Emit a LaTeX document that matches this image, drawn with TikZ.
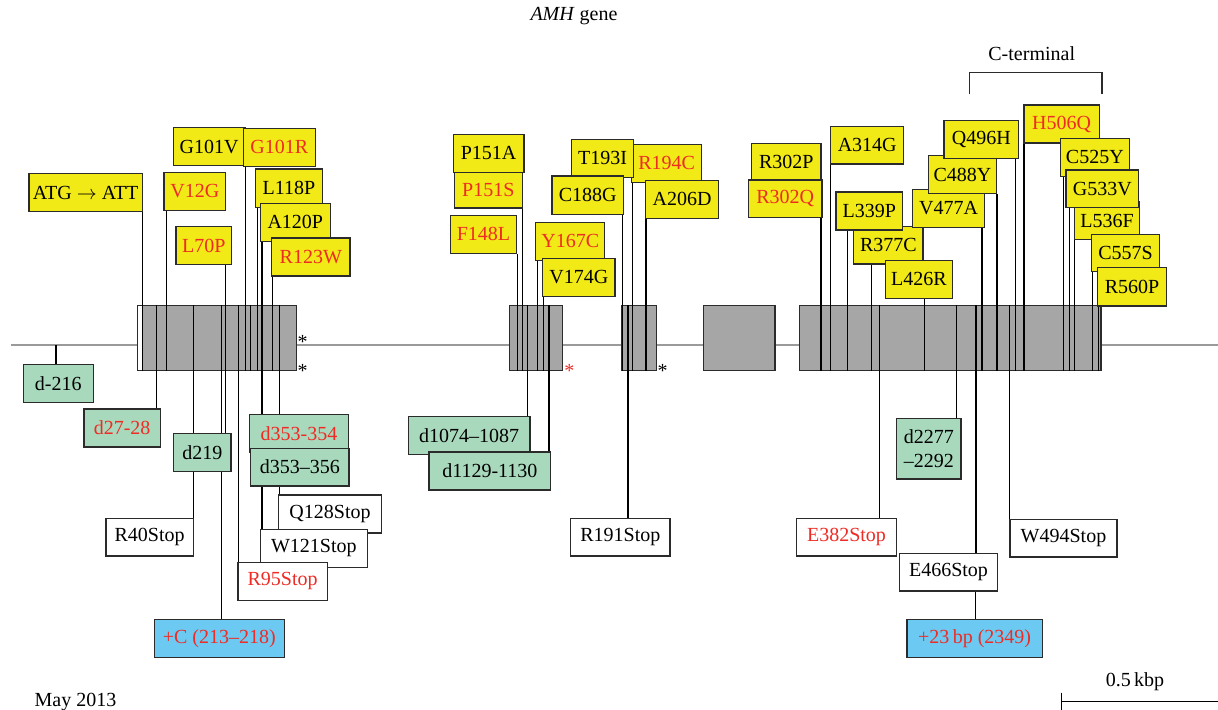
\documentclass[tikz,border=0pt]{standalone}
\usepackage{fontspec}
\setmainfont{Liberation Serif}
\definecolor{yel}{HTML}{F2EA17}
\definecolor{grn}{HTML}{A9D9BD}
\definecolor{blu}{HTML}{6CCAF2}
\definecolor{exg}{HTML}{A6A6A6}
\definecolor{rd}{HTML}{EE2B24}
\definecolor{bordc}{HTML}{2B2B2B}
\definecolor{basec}{HTML}{9A9A9A}
\pgfdeclarelayer{back}\pgfdeclarelayer{conns}\pgfsetlayers{back,conns,main}
\newcommand\mybox[7]{\node[#2, minimum width={(#4-#3)*0.5pt}, minimum height={(#6-#5)*0.5pt}] (#1) at ({(#3+#4)/2},{(#5+#6)/2}) {#7};}
\newcommand\upc[3]{\draw[conn] (#1,0 |- #2.south) -- (#1,0 |- #3.south);}
\newcommand\dnc[3]{\draw[conn] (#1,0 |- #2.north) -- (#1,0 |- #3.north);}
\newcommand\tickl[2]{\draw[conn] (#1,0 |- #2.north) -- (#1,0 |- #2.south);}
\begin{document}
\begin{tikzpicture}[x=0.5pt,y=-0.5pt,font=\fontsize{10}{12}\selectfont,
  lab/.style={draw=bordc,line width=0.6pt,inner sep=0pt,align=center},
  ybox/.style={lab,fill=yel},
  gbox/.style={lab,fill=grn},
  wbox/.style={lab,fill=white},
  bbox/.style={lab,fill=blu},
  rt/.style={text=rd},
  exon/.style={draw=bordc,line width=0.6pt,fill=exg,inner sep=0pt},
  conn/.style={line width=0.6pt,black},
  plain/.style={inner sep=0pt}]
\useasboundingbox (0,0) rectangle (1218,710);

% ---- backbone and exons
\begin{pgfonlayer}{back}
\coordinate (bl0) at (11,345);
\coordinate (bl1) at (1218,345);
\draw[basec,line width=0.7pt] (bl0) -- (bl1);
\mybox{ex1}{exon,fill=white}{137.5}{296.7}{305.7}{370.7}{}
\mybox{ex1g}{exon}{142.5}{296.7}{305.7}{370.7}{}
\mybox{ex2}{exon}{509.3}{562.7}{305.7}{370.7}{}
\mybox{ex3}{exon}{621.3}{656.7}{305.7}{370.7}{}
\mybox{ex4}{exon}{703.3}{775}{305.7}{370.7}{}
\mybox{ex5}{exon}{799.7}{1101}{305.7}{370.7}{}
\end{pgfonlayer}

% ---- exon 1, above
\mybox{atg}{ybox}{29}{142.3}{173.3}{211.7}{ATG $\rightarrow$ ATT}
\mybox{v12g}{ybox,rt}{164}{225.7}{172.3}{210.3}{V12G}
\mybox{g101v}{ybox}{173.3}{245}{127.7}{165.7}{G101V}
\mybox{g101r}{ybox,rt}{243.3}{315.3}{128.3}{166.3}{G101R}
\mybox{l70p}{ybox,rt}{176}{231.7}{226.7}{264.7}{L70P}
\mybox{l118p}{ybox}{255.7}{322.3}{169}{207.3}{L118P}
\mybox{a120p}{ybox}{260.3}{330.3}{203.3}{241.3}{A120P}
\mybox{r123w}{ybox,rt}{271.7}{350}{238}{276}{R123W}
% ---- exon 1, below
\mybox{d216}{gbox}{23.3}{93.3}{364.3}{402.7}{d-216}
\mybox{d2728}{gbox,rt}{84}{160.3}{409}{447}{d27-28}
\mybox{d219}{gbox}{173.7}{231}{433.3}{471.3}{d219}
\mybox{r40}{wbox}{106}{193.3}{518.3}{556}{R40Stop}
\mybox{pc}{bbox,rt}{154.3}{284.3}{619.3}{657.3}{+C (213--218)}
\mybox{d353a}{gbox,rt}{249.3}{348.7}{414.3}{452.3}{d353-354}
\mybox{d353b}{gbox}{250.7}{349}{448.3}{486}{d353--356}
\mybox{q128}{wbox}{278.7}{381.3}{495}{533}{Q128Stop}
\mybox{w121}{wbox}{260.3}{367.3}{529.3}{567.3}{W121Stop}
\mybox{r95}{wbox,rt}{238}{327.3}{562.7}{600.3}{R95Stop}
\node[plain] (ast1) at (302.7,341.6) {*};
\node[plain] (ast2) at (302.7,370.6) {*};

% ---- exon 2
\mybox{p151a}{ybox}{453.3}{524}{134.3}{172.3}{P151A}
\mybox{p151s}{ybox,rt}{454.3}{522.3}{172.3}{208}{P151S}
\mybox{f148l}{ybox,rt}{450.7}{516.3}{215.3}{253.3}{F148L}
\mybox{y167c}{ybox,rt}{535.7}{604.7}{222.3}{260.3}{Y167C}
\mybox{v174g}{ybox}{542.7}{615}{258.3}{296.7}{V174G}
\mybox{d1074}{gbox}{408.3}{530}{416.7}{454.7}{d1074--1087}
\mybox{d1129}{gbox}{429}{550.7}{452}{490}{d1129-1130}
\node[plain,text=rd] (ast3) at (569.3,370.9) {*};

% ---- exon 3
\mybox{r194c}{ybox,rt}{631.7}{701.7}{144.3}{182.3}{R194C}
\mybox{t193i}{ybox}{571.7}{633.3}{139.3}{177.3}{T193I}
\mybox{c188g}{ybox}{552}{623.3}{176}{214.3}{C188G}
\mybox{a206d}{ybox}{645.7}{718.3}{180.3}{218.3}{A206D}
\mybox{r191}{wbox}{570.7}{670}{518.3}{556}{R191Stop}
\node[plain] (ast4) at (662.7,370.6) {*};

% ---- exon 5
\mybox{r302p}{ybox}{751.7}{821}{143.3}{180.7}{R302P}
\mybox{r302q}{ybox,rt}{748.3}{822}{180}{217.3}{R302Q}
\mybox{a314g}{ybox}{830.7}{903.7}{126.3}{164}{A314G}
\mybox{r377c}{ybox}{853.7}{923}{226.3}{264}{R377C}
\mybox{l339p}{ybox}{836}{902.7}{192}{230}{L339P}
\mybox{l426r}{ybox}{885.3}{952.3}{260.3}{298.3}{L426R}
\mybox{v477a}{ybox}{912.7}{984.3}{189.3}{227.3}{V477A}
\mybox{c488y}{ybox}{928.3}{996.7}{155.7}{193.3}{C488Y}
\mybox{q496h}{ybox}{944}{1018.7}{120.7}{158.7}{Q496H}
\mybox{h506q}{ybox,rt}{1024}{1099.3}{105}{143}{H506Q}
\mybox{c525y}{ybox}{1060.3}{1129.3}{138.3}{176.3}{C525Y}
\mybox{l536f}{ybox}{1074.7}{1139.3}{201.7}{239.3}{L536F}
\mybox{g533v}{ybox}{1066}{1138.7}{170}{207.7}{G533V}
\mybox{c557s}{ybox}{1091.7}{1159.3}{234.3}{271.7}{C557S}
\mybox{r560p}{ybox}{1097.3}{1166.7}{267.7}{306}{R560P}
\mybox{d2277}{gbox}{896.7}{961}{418.7}{479}{d2277\\--2292}
\mybox{e382}{wbox,rt}{796.7}{896.3}{518.3}{556}{E382Stop}
\mybox{w494}{wbox}{1010}{1117}{519.3}{557}{W494Stop}
\mybox{e466}{wbox}{899.3}{997.7}{553.3}{591}{E466Stop}
\mybox{p23}{bbox,rt}{907}{1042.3}{619.3}{657.3}{+23\,bp (2349)}

% ---- texts
\node[plain,anchor=base] (title) at (574,20.7) {\textit{AMH} gene};
\node[plain,anchor=base] (cterm) at (1031.7,61) {C-terminal};
\node[plain,anchor=base] (kbp) at (1135,686.7) {0.5\,kbp};
\node[plain,anchor=base west] (may) at (34.3,706.5) {May 2013};

% ---- C-terminal bracket and scale bar
\coordinate (ct0) at (969.7,94.3);
\coordinate (ct1) at (1102,72.7);
\coordinate (ct2) at (1102,94.3);
\draw[bordc,line width=0.7pt] (ct0) |- (ct1) -- (ct2);
\coordinate (sb0) at (1061.7,701.7);
\coordinate (sb1) at (1218,701.7);
\coordinate (sbt0) at (1061.7,692.7);
\coordinate (sbt1) at (1061.7,710);
\draw[black,line width=0.6pt] (sb0) -- (sb1) (sbt0) -- (sbt1);

% ---- connectors
\begin{pgfonlayer}{conns}
\upc{142.3}{atg}{ex1}
\upc{166.7}{v12g}{ex1}
\upc{245.3}{g101r}{ex1}
\upc{225.7}{l70p}{ex1}
\upc{257.3}{l118p}{ex1}
\upc{262}{a120p}{ex1}
\upc{272.7}{r123w}{ex1}
\tickl{250.7}{ex1}
\coordinate (bd) at (56,345);
\draw[conn] (bd) -- (bd |- d216.north);
\dnc{156.3}{ex1}{d2728}
\dnc{193.7}{ex1}{r40}
\dnc{221.7}{ex1}{pc}
\dnc{225.7}{ex1}{d219}
\dnc{238.7}{ex1}{r95}
\dnc{262}{ex1}{w121}
\dnc{279.3}{ex1}{q128}
%
\upc{522.3}{p151s}{ex2}
\upc{517.3}{f148l}{ex2}
\upc{537.7}{y167c}{ex2}
\upc{543.3}{v174g}{ex2}
\dnc{527.7}{ex2}{d1074}
\dnc{549}{ex2}{d1129}
%
\upc{622.7}{c188g}{ex3}
\upc{632.3}{r194c}{ex3}
\upc{646}{a206d}{ex3}
\dnc{628}{ex3}{r191}
%
\upc{821}{r302q}{ex5}
\upc{830.7}{a314g}{ex5}
\upc{847.3}{l339p}{ex5}
\upc{871.7}{r377c}{ex5}
\upc{924.3}{l426r}{ex5}
\upc{982}{v477a}{ex5}
\upc{997}{c488y}{ex5}
\upc{1015.7}{q496h}{ex5}
\upc{1024}{h506q}{ex5}
\upc{1063.3}{c525y}{ex5}
\upc{1069.3}{g533v}{ex5}
\upc{1074.7}{l536f}{ex5}
\upc{1092.3}{c557s}{ex5}
\upc{1098.3}{r560p}{ex5}
\dnc{879.7}{ex5}{e382}
\dnc{956.7}{ex5}{d2277}
\dnc{976}{ex5}{e466}
\dnc{1009.3}{ex5}{w494}
\draw[conn] (975.3,0 |- e466.south) -- (975.3,0 |- p23.north);
\end{pgfonlayer}
\end{tikzpicture}
\end{document}
